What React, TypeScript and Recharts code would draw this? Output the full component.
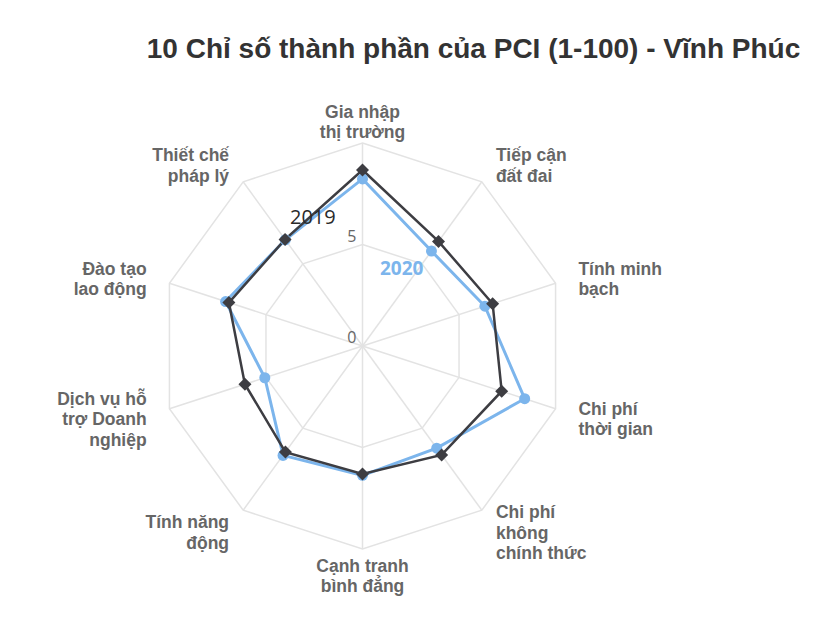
import { PolarAngleAxis, PolarGrid, PolarRadiusAxis, Radar, RadarChart } from "recharts";

const categories: string[][] = [
  ["Gia nhập", "thị trường"],
  ["Tiếp cận", "đất đai"],
  ["Tính minh", "bạch"],
  ["Chi phí", "thời gian"],
  ["Chi phí", "không", "chính thức"],
  ["Cạnh tranh", "bình đẳng"],
  ["Tính năng", "động"],
  ["Dịch vụ hỗ", "trợ Doanh", "nghiệp"],
  ["Đào tạo", "lao động"],
  ["Thiết chế", "pháp lý"]
];

const values2019 = [8.67, 6.37, 6.74, 7.21, 6.63, 6.3, 6.46, 6.09, 6.92, 6.49];
const values2020 = [8.23, 5.78, 6.34, 8.4, 6.22, 6.37, 6.66, 5.06, 7.09, 6.47];
const radiusTicks = [0, 5, 10];
const shownTicks = [0, 5];

const data = categories.map((lines, i) => ({
  name: lines.join(" "),
  lines,
  y2019: values2019[i],
  y2020: values2020[i]
}));

const CX = 362.5;
const CY = 346;
const R = 203;
const LABEL_FONT = "'Liberation Sans', Arial, sans-serif";

function AngleTick(props: any) {
  const { payload, index } = props;
  const angle = (payload.coordinate * Math.PI) / 180;
  const cos = Math.cos(angle);
  const sin = Math.sin(angle);
  const x = CX + (R + 24) * cos;
  const y = CY - (R + 24) * sin + 3;
  const anchor = Math.abs(cos) < 0.1 ? "middle" : cos > 0 ? "start" : "end";
  const lines = data[index]?.lines ?? [payload.value];
  const lh = 20.5;
  const top = y - ((lines.length - 1) * lh) / 2;
  return (
    <text
      x={x}
      y={top}
      textAnchor={anchor}
      fill="#666666"
      fontFamily={LABEL_FONT}
      fontWeight="bold"
      fontSize={17.5}
      dominantBaseline="central"
    >
      {lines.map((line: string, i: number) => (
        <tspan key={i} x={x} y={top + i * lh} dominantBaseline="central">
          {line}
        </tspan>
      ))}
    </text>
  );
}

function RadiusTick(props: any) {
  const { x, y, payload } = props;
  if (!shownTicks.includes(payload.value)) return null;
  return (
    <text
      x={x - 6}
      y={y - 9}
      textAnchor="end"
      dominantBaseline="central"
      fill="#666666"
      fontFamily="'Open Sans', sans-serif"
      fontSize={16}
    >
      {payload.value}
    </text>
  );
}

function Diamond(props: any) {
  const { cx, cy } = props;
  const s = 6.5;
  return <polygon points={`${cx},${cy - s} ${cx + s},${cy} ${cx},${cy + s} ${cx - s},${cy}`} fill="#3d3d42" />;
}

function Circle(props: any) {
  const { cx, cy } = props;
  return <circle cx={cx} cy={cy} r={5.5} fill="#7cb5ec" />;
}

export default function App() {
  return (
    <div style={{ position: "absolute", left: 0, top: 0, width: 840, height: 637, background: "#fff" }}>
      <div
        style={{
          position: "absolute",
          left: 0,
          width: 947,
          top: 32,
          textAlign: "center",
          fontFamily: LABEL_FONT,
          fontWeight: "bold",
          fontSize: 28,
          color: "#333333",
          lineHeight: "34px"
        }}
      >
        10 Chỉ số thành phần của PCI (1-100) - Vĩnh Phúc
      </div>
      <RadarChart
        width={840}
        height={637}
        data={data}
        cx={CX}
        cy={CY}
        outerRadius={R}
        margin={{ top: 0, right: 0, bottom: 0, left: 0 }}
        style={{ position: "absolute", left: 0, top: 0 }}
      >
        <PolarGrid gridType="polygon" stroke="#e3e3e3" strokeWidth={1.5} />
        <PolarAngleAxis dataKey="name" tick={AngleTick} tickLine={false} axisLine={false} />
        <PolarRadiusAxis
          angle={90}
          domain={[0, 10]}
          ticks={radiusTicks}
          tick={RadiusTick}
          axisLine={false}
          tickLine={false}
        />
        <Radar
          name="2020"
          dataKey="y2020"
          stroke="#7cb5ec"
          strokeWidth={3}
          fill="none"
          fillOpacity={0}
          dot={Circle}
          isAnimationActive={false}
        />
        <Radar
          name="2019"
          dataKey="y2019"
          stroke="#3d3d42"
          strokeWidth={2.5}
          fill="none"
          fillOpacity={0}
          dot={Diamond}
          isAnimationActive={false}
        />
      </RadarChart>
      <div
        style={{
          position: "absolute",
          left: 290,
          top: 204,
          fontFamily: "'Open Sans', sans-serif",
          fontSize: 20,
          color: "#2a2a2a",
          lineHeight: "26px"
        }}
      >
        2019
      </div>
      <div
        style={{
          position: "absolute",
          left: 380,
          top: 255,
          fontFamily: "'Open Sans', sans-serif",
          fontWeight: "bold",
          fontSize: 19,
          color: "#7cb5ec",
          lineHeight: "26px"
        }}
      >
        2020
      </div>
    </div>
  );
}
